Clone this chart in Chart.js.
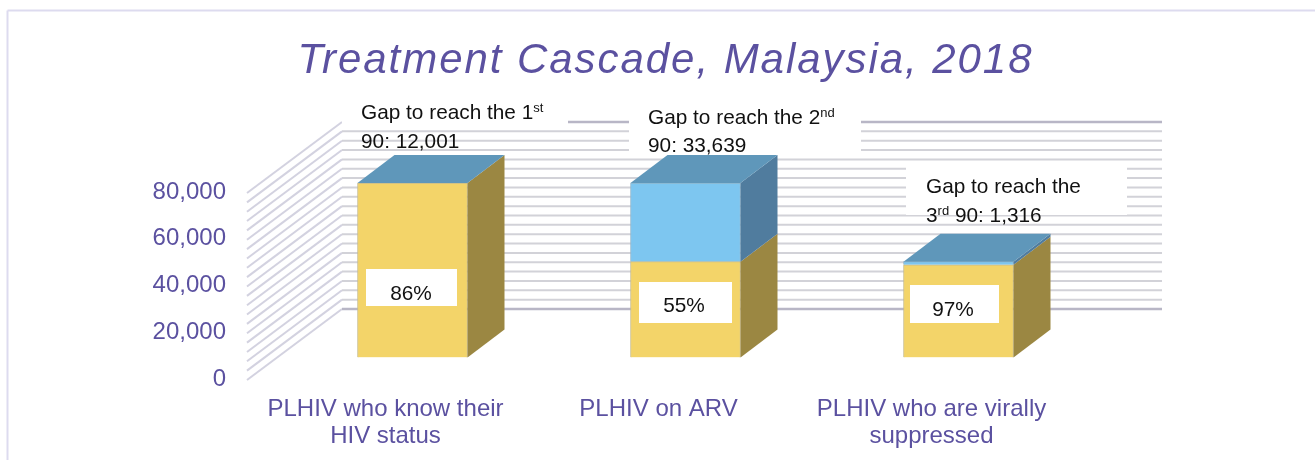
<!DOCTYPE html>
<html>
<head>
<meta charset="utf-8">
<title>Treatment Cascade, Malaysia, 2018</title>
<script src="https://cdn.jsdelivr.net/npm/chart.js@4"></script>
<style>
    html, body { margin: 0; padding: 0; background: #fff; }
    canvas { display: block; }
</style>
</head>
<body>
<canvas id="cascade-chart" width="1315" height="460"></canvas>
<script>
// Chart data
const titleText = 'Treatment Cascade, Malaysia, 2018';
const categories = [['PLHIV who know their', 'HIV status'], 'PLHIV on ARV', ['PLHIV who are virally', 'suppressed']];
const achieved = [74650, 41011, 39695];
const gaps = [0, 33639, 1316];
const percentLabels = ['86%', '55%', '97%'];
// ^ toggles superscript
const gapNotes = [
    ['Gap to reach the 1^st', '90: 12,001'],
    ['Gap to reach the 2^nd', '90: 33,639'],
    ['Gap to reach the', '3^rd^ 90: 1,316']
];
const yTicksMax = 80000;
const yTickStep = 20000;
const gridStep = 4000;

const purple = '#5b51a0';
const fontFamily = '"Liberation Sans", Arial, sans-serif';

// 3D look: how far the back of a bar sits from its front
const depthX = 37;
const depthY = 28;

// Placement of the text boxes [left, top, right, bottom]
const noteBoxes = [[342, 96, 568, 126], [629, 100, 861, 155], [906, 162, 1127, 215]];
const noteText = [[361, 119, 148], [648, 123.5, 152], [926, 193, 222]];
const percentBoxes = [[366, 269, 457, 306], [639, 282, 732, 323], [910, 285, 999, 323]];
const percentText = [[411, 300], [684, 312], [953, 316]];

function polygon(ctx, points, color) {
    ctx.fillStyle = color;
    ctx.beginPath();
    points.forEach((p, i) => (i ? ctx.lineTo(p[0], p[1]) : ctx.moveTo(p[0], p[1])));
    ctx.closePath();
    ctx.fill();
}

function line(ctx, x1, y1, x2, y2, color, width) {
    ctx.strokeStyle = color;
    ctx.lineWidth = width;
    ctx.beginPath();
    ctx.moveTo(x1, y1);
    ctx.lineTo(x2, y2);
    ctx.stroke();
}

const cascadePlugin = {
    id: 'cascade3d',
    beforeDraw(chart) {
        const ctx = chart.ctx;
        ctx.save();
        ctx.fillStyle = '#fff';
        ctx.fillRect(0, 0, chart.width, chart.height);
        // frame of the slide
        line(ctx, 7.5, chart.height, 7.5, 10.5, '#dddbef', 2);
        line(ctx, 7.5, 10.5, chart.width, 10.5, '#dddbef', 2);
        ctx.restore();

        // the title block has no letter spacing option, and it has to sit off centre
        const block = chart.titleBlock;
        if (!block.spacedDraw) {
            const titleDraw = block.draw.bind(block);
            block.spacedDraw = true;
            block.draw = function() {
                ctx.save();
                ctx.translate(118, 0);
                ctx.letterSpacing = '1.95px';
                titleDraw();
                ctx.restore();
            };
        }
    },
    beforeDatasetsDraw(chart) {
        const ctx = chart.ctx;
        const area = chart.chartArea;
        const yScale = chart.scales.y;
        ctx.save();
        for (let v = 0; v <= yTicksMax; v += gridStep) {
            const y = yScale.getPixelForValue(v);
            const edge = v === 0 || v === yTicksMax;
            const color = edge ? '#b8b6c6' : '#d2d2d8';
            const width = edge ? 2.6 : 2;
            // side wall then back wall
            line(ctx, area.left - 29, y + 22.5, area.left + 66, y - 48.5, '#d3d2e0', 2);
            line(ctx, area.left + 66, y - 48.5, area.right + 67, y - 48.5, color, width);
        }
        ctx.restore();
    },
    afterDatasetsDraw(chart) {
        const ctx = chart.ctx;
        const lower = chart.getDatasetMeta(0).data;
        const upper = chart.getDatasetMeta(1).data;
        ctx.save();
        lower.forEach((bar, i) => {
            const right = bar.x + bar.width / 2;
            const left = bar.x - bar.width / 2;
            const top = upper[i];
            polygon(ctx, [[right, bar.y], [right + depthX, bar.y - depthY],
                [right + depthX, bar.base - depthY], [right, bar.base]], '#9b8742');
            if (top.base - top.y > 0) {
                polygon(ctx, [[right, top.y], [right + depthX, top.y - depthY],
                    [right + depthX, top.base - depthY], [right, top.base]], '#507c9e');
            }
            polygon(ctx, [[left, top.y], [left + depthX, top.y - depthY],
                [right + depthX, top.y - depthY], [right, top.y]], '#5f97ba');
        });

        // white label boxes
        ctx.fillStyle = '#fff';
        noteBoxes.concat(percentBoxes).forEach(b => ctx.fillRect(b[0], b[1], b[2] - b[0], b[3] - b[1]));

        ctx.fillStyle = '#111';
        ctx.textBaseline = 'alphabetic';
        ctx.textAlign = 'left';
        gapNotes.forEach((note, i) => {
            note.forEach((text, row) => {
                let x = noteText[i][0];
                text.split('^').forEach((run, r) => {
                    ctx.font = (r % 2 ? '13px ' : '20.8px ') + fontFamily;
                    ctx.fillText(run, x, noteText[i][row + 1] - (r % 2 ? 7 : 0));
                    x += ctx.measureText(run).width;
                });
            });
        });
        ctx.font = '20.8px ' + fontFamily;
        ctx.textAlign = 'center';
        percentLabels.forEach((text, i) => ctx.fillText(text, percentText[i][0], percentText[i][1]));
        ctx.restore();
    }
};

const cascadeChart = new Chart(document.getElementById('cascade-chart').getContext('2d'), {
    type: 'bar',
    data: {
        labels: categories,
        datasets: [
            { label: 'Achieved', data: achieved, backgroundColor: '#f3d469', borderColor: '#c9bd8c', borderWidth: 1 },
            { label: 'Gap', data: gaps, backgroundColor: '#7dc6f0', borderColor: '#8fb6cc', borderWidth: 1 }
        ]
    },
    options: {
        responsive: false,
        animation: false,
        // y axis box has to hold its labels or they get clipped
        layout: { padding: { left: 0, right: 220, top: 0, bottom: 0 } },
        barThickness: 110,
        plugins: {
            legend: { display: false },
            tooltip: { enabled: false },
            title: {
                display: true,
                text: titleText,
                color: purple,
                font: { family: fontFamily, size: 42, style: 'italic', weight: 'normal', lineHeight: 1.2 },
                padding: { top: 36, bottom: 84.1 }
            }
        },
        scales: {
            x: {
                stacked: true,
                grid: { display: false },
                border: { display: false },
                afterFit(scale) { scale.height = 102.5; },
                ticks: {
                    color: purple,
                    font: { family: fontFamily, size: 24, lineHeight: 1.125 },
                    labelOffset: -27,
                    padding: 30,
                    maxRotation: 0,
                    autoSkip: false
                }
            },
            y: {
                stacked: true,
                min: 0,
                max: yTicksMax,
                grid: { display: false },
                border: { display: false },
                afterFit(scale) { scale.width = 276; },
                ticks: {
                    stepSize: yTickStep,
                    color: purple,
                    font: { family: fontFamily, size: 24 },
                    labelOffset: 21.5,
                    padding: 42,
                    callback: value => value.toLocaleString('en-US')
                }
            }
        }
    },
    plugins: [cascadePlugin]
});
</script>
</body>
</html>
